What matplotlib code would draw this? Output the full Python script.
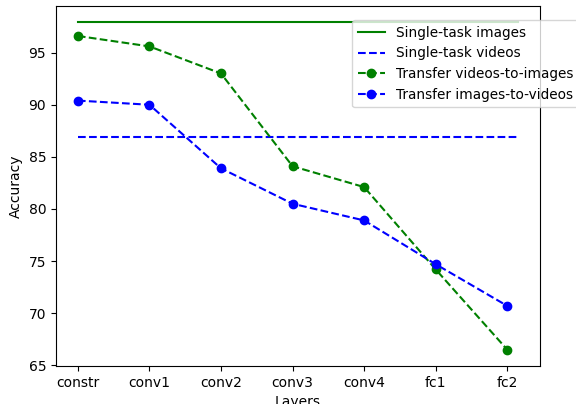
import numpy as np
import matplotlib
matplotlib.use("Agg")
import matplotlib.pyplot as plt

# Данные
layers = ["constr", "conv1", "conv2", "conv3", "conv4", "fc1", "fc2"]
single_images = 97.9
single_videos = 86.9
single_span = [0, 6.15]
transfer_v2i = [96.6, 95.6, 93.0, 84.1, 82.1, 74.2, 66.5]
transfer_i2v = [90.4, 90.0, 83.9, 80.5, 78.9, 74.7, 70.7]

x = np.arange(len(layers))

fig = plt.figure(figsize=(5.76, 4.04), dpi=100)
ax = fig.add_axes([0.097, 0.094, 0.8405, 0.891])

ax.plot(single_span, [single_images, single_images], 'g-', label='Single-task images')
ax.plot(single_span, [single_videos, single_videos], 'b--', label='Single-task videos')
ax.plot(x, transfer_v2i, 'g--o', label='Transfer videos-to-images')
ax.plot(x, transfer_i2v, 'b--o', label='Transfer images-to-videos')

ax.set_xticks(x)
ax.set_xticklabels(layers)
ax.set_yticks([65, 70, 75, 80, 85, 90, 95])
ax.set_xlabel('Layers')
ax.set_ylabel('Accuracy')

ax.legend(loc='upper left', bbox_to_anchor=(0.612, 0.961), borderaxespad=0,
          prop={'size': 9.8})

fig.savefig('out.png', dpi=100)
